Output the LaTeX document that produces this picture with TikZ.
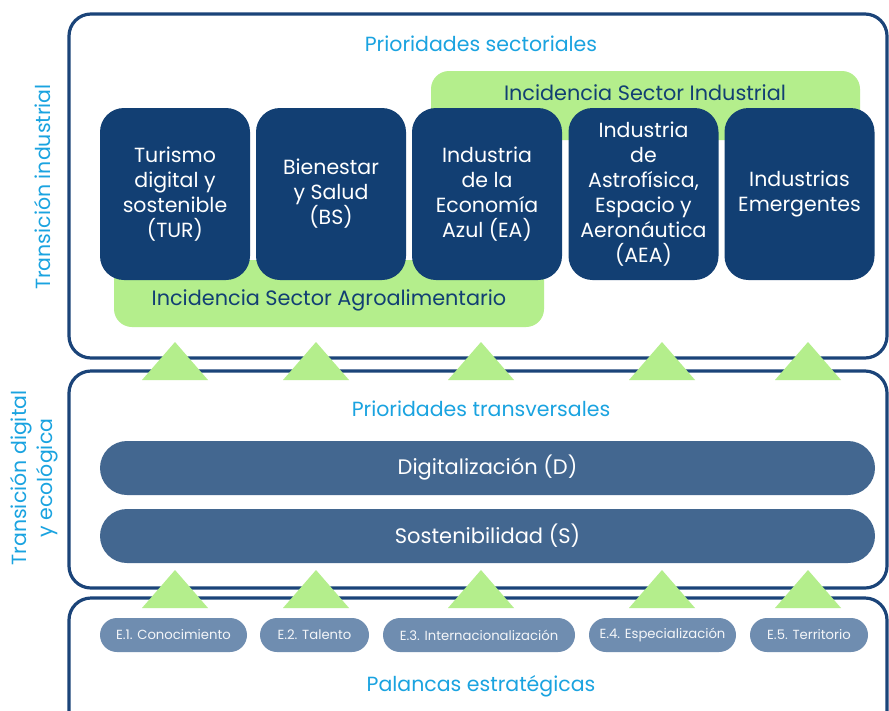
\documentclass[tikz,border=0pt]{standalone}
\usepackage{fontspec}
\setmainfont{Poppins}
\definecolor{navy}{HTML}{123F73}
\definecolor{frame}{HTML}{1B4479}
\definecolor{lgreen}{HTML}{B4EE8C}
\definecolor{barblue}{HTML}{436790}
\definecolor{pill}{HTML}{6F8DB0}
\definecolor{cyanT}{HTML}{1AA3E0}
\begin{document}
\begin{tikzpicture}[x=1pt,y=-1pt,
  panel/.style={draw=frame,line width=3.2pt,rounded corners=22pt,fill=white},
  title/.style={text=cyanT,font=\fontsize{20.5}{22}\selectfont,inner sep=0pt},
  side/.style={text=cyanT,font=\fontsize{20.5}{26}\selectfont,rotate=90,align=center,inner sep=0pt},
  sector/.style={fill=navy,rounded corners=24pt,minimum width=150pt,minimum height=172pt,text=white,align=center,font=\fontsize{20.5}{25}\selectfont,inner sep=0pt},
  greenbar/.style={fill=lgreen,rounded corners=18pt},
  greentext/.style={text=navy,font=\fontsize{20.8}{22}\selectfont,inner sep=0pt},
  trans/.style={fill=barblue,rounded corners=27pt,minimum width=775pt,minimum height=54pt,text=white,font=\fontsize{21}{22}\selectfont,inner sep=0pt},
  lever/.style={fill=pill,rounded corners=17pt,minimum height=34pt,text=white!92!pill,font=\fontsize{13.2}{15}\selectfont,inner sep=0pt}]
\useasboundingbox (0,0) rectangle (889,710);
\clip (0,0) rectangle (889,710);
% panels
\draw[panel] (69,14) rectangle (887,358);
\draw[panel] (69,371) rectangle (887,588);
\draw[panel] (69,598) rectangle (887,740);
% titles
\node[title] (t1) at (481,44) {Prioridades sectoriales};
\node[title] (t2) at (481,409) {Prioridades transversales};
\node[title] (t3) at (481,686) {Palancas estratégicas};
\node[side] (s1) at (43,187) {Transición industrial};
\node[side] (s2) at (34,478) {Transición digital\\y ecológica};
% green bars
\path[greenbar] (431,71) rectangle (860,140);
\node[greentext] (gi) at (645,93) {Incidencia Sector Industrial};
\path[greenbar] (114,260) rectangle (544,327);
\node[greentext] (ga) at (329,300) {Incidencia Sector Agroalimentario};
% sector boxes
\node[sector] (tur) at (175,194) {Turismo\\digital y\\sostenible\\(TUR)};
\node[sector] (bs) at (331,194) {Bienestar\\y Salud\\(BS)};
\node[sector] (ea) at (487,194) {Industria\\de la\\Economía\\Azul (EA)};
\node[sector] (aea) at (643.5,194) {Industria\\de\\Astrofísica,\\Espacio y\\Aeronáutica\\(AEA)};
\node[sector] (em) at (799.5,194) {Industrias\\Emergentes};
% transversal
\node[trans] (dig) at (487.5,468) {Digitalización (D)};
\node[trans] (sos) at (487.5,536) {Sostenibilidad (S)};
% levers
\node[lever,minimum width=147pt] (e1) at (173.5,635) {E.1. Conocimiento};
\node[lever,minimum width=109pt] (e2) at (314.5,635) {E.2. Talento};
\node[lever,minimum width=192pt] (e3) at (479,635) {E.3. Internacionalización};
\node[lever,minimum width=147pt] (e4) at (662.5,635) {E.4. Especialización};
\node[lever,minimum width=118pt] (e5) at (809,635) {E.5. Territorio};
% triangles
\foreach \cx in {175,316,481,662,808}{
  \fill[lgreen] (\cx-33,380) -- (\cx,342) -- (\cx+33,380) -- cycle;
  \fill[lgreen] (\cx-33,608) -- (\cx,570) -- (\cx+33,608) -- cycle;
}
\end{tikzpicture}
\end{document}
